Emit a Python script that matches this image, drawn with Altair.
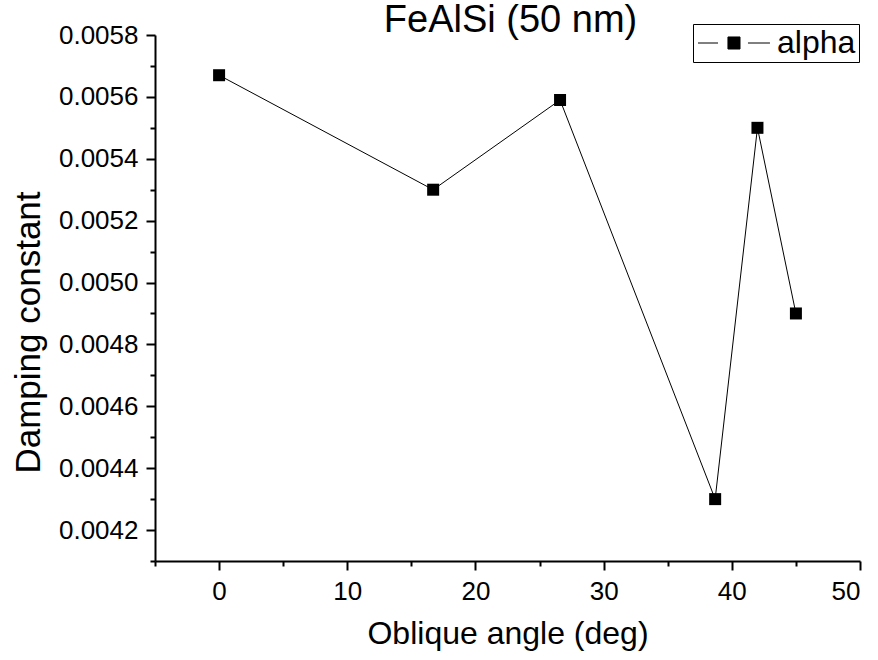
import altair as alt
import pandas as pd

# Damping constant vs oblique angle, FeAlSi film (50 nm)
angles = [0.0, 16.7, 26.6, 38.7, 42.0, 45.0]
alpha = [0.00567, 0.00530, 0.00559, 0.00430, 0.00550, 0.00490]
series = ["alpha"] * len(angles)

x_ticks = [-5, 0, 5, 10, 15, 20, 25, 30, 35, 40, 45, 50]
y_ticks = [round(0.0041 + 0.0001 * i, 4) for i in range(18)]

df = pd.DataFrame({"angle": angles, "alpha": alpha, "series": series})

FONT = "Liberation Sans"

# legend glyph: short line, filled square, short line
legend_path = (
    "M-1,0H0.43"
    "M1.14,-0.43H2V0.43H1.14Z"
    "M2.57,0H4.14"
)

x_enc = alt.X(
    "angle:Q",
    scale=alt.Scale(domain=[-5, 50], nice=False, zero=False),
    axis=alt.Axis(
        title="Oblique angle (deg)",
        values=x_ticks,
        labelExpr="datum.value % 10 === 0 ? format(datum.value, 'd') : ''",
        tickSize={"condition": {"test": "datum.value % 10 === 0", "value": 9}, "value": 5},
        labelPadding=8,
        titlePadding=14,
        titleFontSize=32,
    ),
)
y_enc = alt.Y(
    "alpha:Q",
    scale=alt.Scale(domain=[0.0041, 0.0058], nice=False, zero=False),
    axis=alt.Axis(
        title="Damping constant",
        values=y_ticks,
        labelExpr="round(datum.value * 10000) % 2 === 0 ? format(datum.value, '.4f') : ''",
        tickSize={"condition": {"test": "round(datum.value * 10000) % 2 === 0", "value": 9}, "value": 5},
        labelPadding=8,
        titlePadding=12,
        titleFontSize=35,
        titleY=297,
    ),
)

line = alt.Chart(df).mark_line(color="black", strokeWidth=1).encode(x=x_enc, y=y_enc)

points = alt.Chart(df).mark_square(size=144, opacity=1, filled=True).encode(
    x=x_enc,
    y=y_enc,
    color=alt.Color(
        "series:N",
        scale=alt.Scale(range=["black"]),
        legend=alt.Legend(
            title=None,
            orient="none",
            legendX=538,
            legendY=-11,
            symbolType=legend_path,
            symbolSize=784,
            symbolStrokeColor="black",
            symbolStrokeWidth=1,
            symbolFillColor="black",
            labelFont=FONT,
            labelFontSize=32,
            labelColor="black",
            labelOffset=49,
            strokeColor="black",
            padding=3,
        ),
    ),
)

chart = (
    alt.layer(line, points)
    .properties(
        width=705,
        height=526,
        padding={"left": 155, "top": 35, "right": 18, "bottom": 99},
        autosize=alt.AutoSizeParams(type="none"),
        title=alt.TitleParams(
            "FeAlSi (50 nm)",
            font=FONT,
            fontSize=38,
            fontWeight="normal",
            color="black",
            anchor="middle",
            baseline="alphabetic",
            offset=0,
            dx=3,
            dy=48,
        ),
    )
    .configure_view(stroke=None)
    .configure_axis(
        labelFont=FONT,
        labelFontSize=26,
        labelColor="black",
        titleFont=FONT,
        titleFontWeight="normal",
        titleColor="black",
        domainColor="black",
        domainWidth=2,
        tickColor="black",
        tickWidth=2,
        grid=False,
    )
)

chart.save("out.html", embed_options={"renderer": "svg", "actions": False})
